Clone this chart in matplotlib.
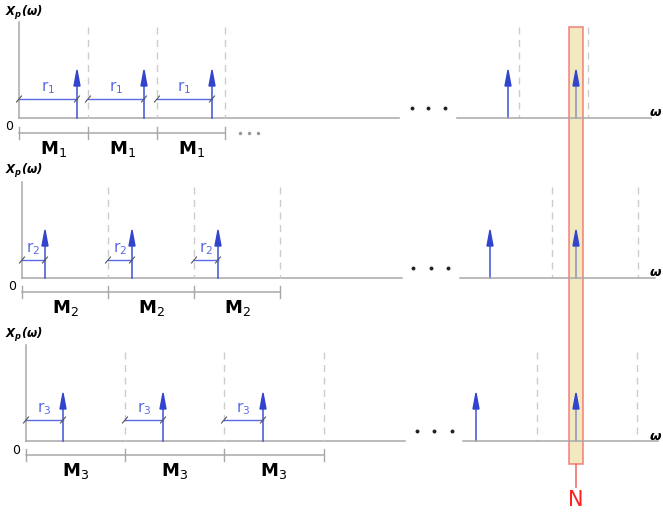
import matplotlib.pyplot as plt
from matplotlib.patches import Polygon, Rectangle

# three spectra, one per row (pixel units of the original drawing)
subs = ["1", "2", "3"]
baseline_y = [118, 278, 441]
axis_x = [19, 22, 26]
axis_top = [22, 182, 345]
dash_top = [27, 187, 352]
label_y = [13, 171, 335]
left_dashes = [[88, 157, 225], [108, 194, 280], [125, 224, 324]]
left_impulses = [[77, 144, 212], [45, 132, 218], [63, 163, 263]]
impulse_tip = [70, 230, 393]
r_y = [99, 260, 420]
M_y = [133, 292, 455]
left_base_end = [399, 402, 405]
right_base = [(457, 651), (460, 655), (463, 658)]
right_impulses = [[508, 576], [490, 576], [476, 576]]
right_dashes = [[519, 588], [552, 638], [537, 637]]
dots_x = [[412, 428, 445], [413, 431, 448], [417, 434, 452]]
dots_y = [108, 268, 431]
highlight = (569, 583, 27, 464)
N_x = 576

gray = "#a8a8a8"
dash_gray = "#cccccc"
blue = "#3f4fd6"
light_blue = "#5a6ae6"

fig = plt.figure(figsize=(6.63, 5.15), dpi=100)
ax = fig.add_axes([0, 0, 1, 1])
ax.set_xlim(0, 663)
ax.set_ylim(515, 0)
ax.axis("off")


def impulse(x, y0, tip):
    inside = highlight[0] < x < highlight[1]
    ax.plot([x, x], [y0, tip + 10], color="#8a90bc" if inside else blue,
            lw=1.1, zorder=5 if inside else 2)
    ax.add_patch(Polygon([(x - 3, tip + 16), (x, tip), (x + 3, tip + 16)],
                         closed=True, color="#3344cc", zorder=5))


for i in range(3):
    y0 = baseline_y[i]
    ax0 = axis_x[i]
    # axes
    ax.plot([ax0, ax0], [axis_top[i], y0], color=gray, lw=1.1)
    ax.plot([ax0, left_base_end[i]], [y0, y0], color=gray, lw=1.1)
    ax.plot(list(right_base[i]), [y0, y0], color=gray, lw=1.1, zorder=6)
    ax.text(5, label_y[i], r"$\mathbfit{X_p(\omega)}$", fontsize=8.5,
            ha="left", va="center")
    ax.text(662, y0 - 5, r"$\mathbfit{\omega}$", fontsize=9.5,
            ha="right", va="center")
    for x, y in zip(dots_x[i], [dots_y[i]] * 3):
        ax.plot(x, y, marker="o", ms=1.8, color="#222222")
    ax.text(ax0 - 10, y0 + 9, "0", fontsize=9, ha="center", va="center")
    # dashed period boundaries
    for x in left_dashes[i] + right_dashes[i]:
        ax.plot([x, x], [dash_top[i], y0], color=dash_gray, lw=1.0,
                ls=(0, (5, 4)))
    # impulses
    for x in left_impulses[i] + right_impulses[i]:
        impulse(x, y0, impulse_tip[i])
    # r brackets
    starts = [ax0] + left_dashes[i][:2]
    for s, e in zip(starts, left_impulses[i]):
        ry = r_y[i]
        ax.plot([s, e], [ry, ry], color=light_blue, lw=1.0)
        for t in (s, e):
            ax.plot([t - 2.5, t + 2.5], [ry + 3, ry - 3], color="#555555",
                    lw=0.8)
        ax.text((s + e) / 2, ry - 11, "r$_{" + subs[i] + "}$", color=light_blue,
                fontsize=11, ha="center", va="center")
    # M brackets
    edges = [ax0] + left_dashes[i]
    my = M_y[i]
    ax.plot([edges[0], edges[-1]], [my, my], color=gray, lw=1.1)
    for t in edges:
        ax.plot([t, t], [my - 6, my + 6], color=gray, lw=1.0)
    for s, e in zip(edges[:-1], edges[1:]):
        ax.text((s + e) / 2, my + 16, r"$\mathbf{M}_" + subs[i] + "$",
                fontsize=13, ha="center", va="center")
    if i == 0:
        for x in (240, 249, 258):
            ax.plot(x, my, marker="o", ms=1.5, color="#999999")

# highlighted column
x0, x1, yt, yb = highlight
ax.add_patch(Rectangle((x0, yt), x1 - x0, yb - yt, facecolor="#efe1a6",
                       edgecolor="#f05a5a", lw=1.2, alpha=0.7, zorder=4))
ax.plot([N_x, N_x], [yb, yb + 23], color="#f07070", lw=1.2)
ax.text(N_x, yb + 36, "N", color="#ff2020", fontsize=15, ha="center",
        va="center")

fig.savefig("out.png", dpi=100)
